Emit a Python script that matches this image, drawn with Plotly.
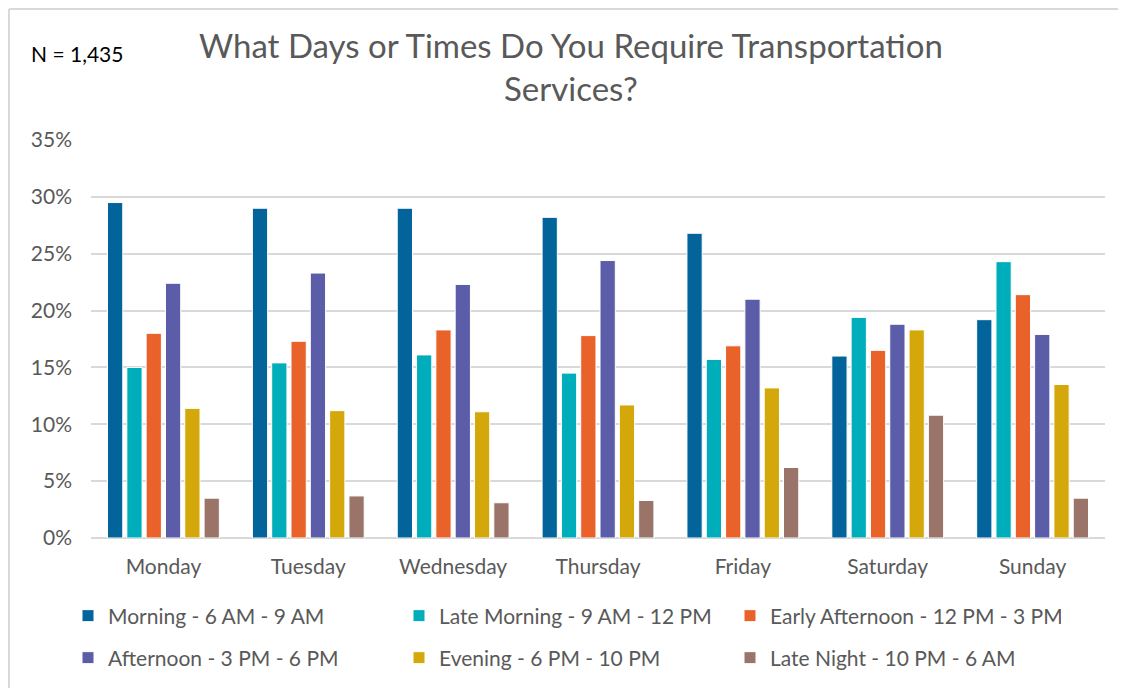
import plotly.graph_objects as go

days = ["Monday", "Tuesday", "Wednesday", "Thursday", "Friday", "Saturday", "Sunday"]
series_names = [
    "Morning - 6 AM - 9 AM",
    "Late Morning - 9 AM - 12 PM",
    "Early Afternoon - 12 PM - 3 PM",
    "Afternoon - 3 PM - 6 PM",
    "Evening - 6 PM - 10 PM",
    "Late Night - 10 PM - 6 AM",
]
morning = [29.5, 29.0, 29.0, 28.2, 26.8, 16.0, 19.2]
late_morning = [15.0, 15.4, 16.1, 14.5, 15.7, 19.4, 24.3]
early_afternoon = [18.0, 17.3, 18.3, 17.8, 16.9, 16.5, 21.4]
afternoon = [22.4, 23.3, 22.3, 24.4, 21.0, 18.8, 17.9]
evening = [11.4, 11.2, 11.1, 11.7, 13.2, 18.3, 13.5]
late_night = [3.5, 3.7, 3.1, 3.3, 6.2, 10.8, 3.5]
values = [morning, late_morning, early_afternoon, afternoon, evening, late_night]
colors = ["#03649B", "#00ADBA", "#E8622A", "#5B5DA8", "#D4A80A", "#9A7468"]
legend_rows = ["legend", "legend", "legend", "legend2", "legend2", "legend2"]

FONT = "Lato, 'Open Sans', sans-serif"
GRAY = "#595959"
OFF = 8  # page body margin: figure starts 8 px in from the window corner
W, H = 1126 - OFF, 688 - OFF
L, R, T, B = 91 - OFF, 1105 - OFF, 140 - OFF, 538 - OFF
PW, PH = R - L, B - T


def px(x):
    """window x -> paper x"""
    return (x - OFF - L) / PW


def py(y):
    """window y -> paper y"""
    return (B - (y - OFF)) / PH


fig = go.Figure()
for name, vals, col, lg in zip(series_names, values, colors, legend_rows):
    fig.add_trace(go.Bar(
        x=days, y=[v / 100 for v in vals], name=name, legend=lg,
        marker=dict(color=col, line=dict(color="white", width=1)),
    ))

legend_common = dict(
    orientation="h", xref="container", yref="container",
    x=(68 - OFF) / W, xanchor="left", yanchor="middle",
    entrywidth=286, font=dict(size=21, color=GRAY, family=FONT),
    traceorder="normal", itemclick=False, bgcolor="rgba(0,0,0,0)",
)

fig.update_layout(
    width=W, height=H,
    paper_bgcolor="white", plot_bgcolor="white",
    margin=dict(l=L, r=W - R, t=T, b=H - B, autoexpand=False),
    barmode="group", bargap=0.20, bargroupgap=0.21,
    font=dict(family=FONT, color=GRAY, size=21),
    showlegend=True,
    legend=dict(legend_common, y=1 - (616 - OFF) / H),
    legend2=dict(legend_common, y=1 - (658 - OFF) / H),
    annotations=[
        dict(text="What Days or Times Do You Require Transportation<br>Services?",
             xref="paper", yref="paper", x=px(571), y=py(67),
             xanchor="center", yanchor="middle", showarrow=False, align="center",
             font=dict(size=33, color=GRAY, family=FONT)),
        dict(text="N = 1,435", xref="paper", yref="paper", x=px(29), y=py(53),
             xanchor="left", yanchor="middle", showarrow=False,
             font=dict(size=21, color="#000000", family=FONT)),
    ],
    shapes=[
        dict(type="line", xref="paper", yref="paper",
             x0=px(OFF + 1), x1=px(OFF + 1), y0=py(OFF + 1), y1=py(700),
             line=dict(color="#D9D9D9", width=2)),
        dict(type="line", xref="paper", yref="paper",
             x0=px(OFF + 1), x1=px(1140), y0=py(OFF + 1), y1=py(OFF + 1),
             line=dict(color="#D9D9D9", width=2)),
    ],
)
fig.update_yaxes(
    range=[0, 0.35], dtick=0.05, tickformat=".0%",
    showgrid=True, gridcolor="#D9D9D9", gridwidth=1.5,
    zeroline=True, zerolinecolor="#D9D9D9", zerolinewidth=1.5,
    showline=False, ticks="", ticklabelstandoff=18,
    tickfont=dict(size=21, color=GRAY),
)
fig.update_xaxes(showgrid=False, showline=False, ticks="",
                 tickfont=dict(size=21, color=GRAY), ticklabelstandoff=14)

fig.write_html("out.html")
